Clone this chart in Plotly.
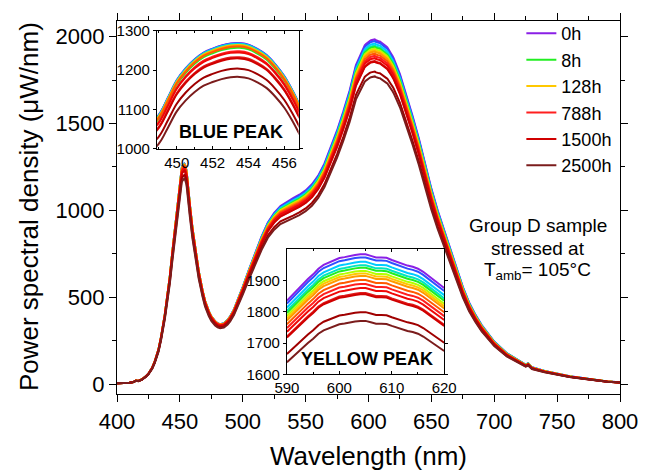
import plotly.graph_objects as go
import numpy as np

# ---------------- data ----------------
wavelength = [400, 405, 410, 413, 415, 417, 420, 423, 425, 428, 430, 433, 435, 438, 440,
              442, 444, 446, 448, 449, 449.5, 450, 450.5, 451, 451.5, 452, 452.5, 453,
              453.5, 454, 454.5, 455, 455.5, 456, 456.5, 457, 458, 460, 462, 465, 468,
              470, 473, 475, 478, 480, 482, 485, 488, 490, 493, 495, 498, 500, 505, 510,
              515, 520, 525, 530, 535, 540, 545, 550, 555, 560, 565, 570, 575, 580, 585,
              590, 591, 592, 593, 594, 595, 596, 597, 598, 599, 600, 601, 602, 603, 604,
              605, 606, 607, 608, 609, 610, 611, 612, 613, 614, 615, 616, 617, 618, 619,
              620, 625, 630, 635, 640, 645, 650, 655, 660, 665, 670, 675, 680, 685, 690,
              695, 700, 710, 720, 725, 727, 730, 740, 750, 760, 770, 780, 790, 800]

psd_0h = [5, 5, 8, 12, 20, 18, 28, 45, 60, 95, 130, 200, 270, 400, 500,
          620, 760, 900, 1040, 1087, 1130, 1175, 1205, 1228, 1245, 1255, 1263, 1268,
          1269, 1265, 1254, 1239, 1215, 1185, 1145, 1100, 1030, 900, 790, 650, 540,
          480, 420, 390, 362, 350, 345, 350, 370, 390, 430, 465, 520, 560, 660, 760,
          850, 930, 985, 1025, 1050, 1070, 1090, 1115, 1150, 1200, 1270, 1360, 1460, 1570, 1690,
          1836, 1853, 1870, 1890, 1905, 1920, 1938, 1950, 1957, 1965, 1972, 1975, 1979, 1982, 1984,
          1984, 1979, 1974, 1974, 1973, 1966, 1960, 1953, 1948, 1944, 1938, 1928, 1915, 1902, 1890,
          1876, 1785, 1670, 1545, 1415, 1270, 1125, 1000, 890, 776, 660, 560, 470, 400, 340,
          290, 245, 178, 132, 112, 120, 97, 76, 60, 45, 35, 25, 15, 10]

series_names = ["0h", "1h", "2h", "4h", "8h", "32h", "128h", "256h", "500h",
                "788h", "1000h", "1250h", "1500h", "2000h", "2500h"]
# value of each series at the blue peak (453.5 nm) and at the yellow peak (605 nm)
blue_peak = [1269, 1268, 1267, 1266, 1257, 1262, 1264, 1262, 1260,
             1248, 1245, 1233, 1230, 1204, 1183]
yellow_peak = [1984, 1974, 1960, 1949, 1941, 1931, 1923, 1915, 1902,
               1889, 1876, 1860, 1856, 1799, 1771]
legend_series = ["0h", "8h", "128h", "788h", "1500h", "2500h"]

blue_xticks = [450, 452, 454, 456]
blue_yticks = [1000, 1100, 1200, 1300]
yellow_xticks = [590, 600, 610, 620]
yellow_yticks = [1600, 1700, 1800, 1900]
main_xticks = [400, 450, 500, 550, 600, 650, 700, 750, 800]
main_yticks = [0, 500, 1000, 1500, 2000]

# ---------------- styles ----------------
colors = ["#8a1fe6", "#2f4fff", "#00ccff", "#00e6c0", "#22ee22", "#b4ff00", "#ffc800",
          "#ff9a00", "#ff5a00", "#ff1f1f", "#f00808", "#e01b1b", "#d00000", "#a00000", "#7b1c1c"]
FONT = "Liberation Sans, Arial, sans-serif"

W, H = 650, 470
PL, PR, PT, PB = 117, 632, 15, 394          # main plot area in pixels


def fx(px):
    return (px - PL) / (PR - PL)


def fy(py):
    return (PB - py) / (PB - PT)


lam = np.array(wavelength, dtype=float)
base = np.array(psd_0h, dtype=float)
# blend weight between blue-peak attenuation and yellow-peak attenuation
w = np.clip((lam - 480.0) / 60.0, 0, 1)

fig = go.Figure()
series_curves = []
for i, name in enumerate(series_names):
    b = blue_peak[i] / blue_peak[0]
    yv = yellow_peak[i] / yellow_peak[0]
    series_curves.append(base * (b + (yv - b) * w))

for i, name in enumerate(series_names):
    fig.add_trace(go.Scatter(x=lam, y=series_curves[i], mode="lines", name=name,
                             line=dict(color=colors[i], width=2),
                             showlegend=name in legend_series, xaxis="x", yaxis="y"))
for i, name in enumerate(series_names):
    m = (lam >= 448) & (lam <= 458)
    fig.add_trace(go.Scatter(x=lam[m], y=series_curves[i][m], mode="lines", name=name,
                             line=dict(color=colors[i], width=2, shape="spline"),
                             showlegend=False, xaxis="x2", yaxis="y2"))
for i, name in enumerate(series_names):
    m = (lam >= 589) & (lam <= 621)
    fig.add_trace(go.Scatter(x=lam[m], y=series_curves[i][m], mode="lines", name=name,
                             line=dict(color=colors[i], width=2),
                             showlegend=False, xaxis="x3", yaxis="y3"))

axis_common = dict(showline=True, linecolor="black", linewidth=1.2, mirror="ticks",
                   showgrid=False, zeroline=False, tickcolor="black")

fig.update_layout(
    width=W, height=H,
    margin=dict(l=PL, r=W - PR, t=PT, b=H - PB),
    paper_bgcolor="white", plot_bgcolor="white",
    font=dict(family=FONT, color="black"),
    xaxis=dict(**axis_common, range=[400, 800], tickvals=main_xticks, ticks="outside",
               ticklen=7, tickfont=dict(size=22),
               minor=dict(ticks="outside", ticklen=4, dtick=25, tickcolor="black")),
    yaxis=dict(**axis_common, range=[-57, 2090], tickvals=main_yticks, ticks="outside",
               ticklen=7, tickfont=dict(size=22),
               minor=dict(ticks="outside", ticklen=4, dtick=250, tickcolor="black")),
    xaxis2=dict(**axis_common, domain=[fx(158), fx(303)], anchor="y2", range=[448.9, 456.8],
                tickvals=blue_xticks, ticks="inside", ticklen=3, tickfont=dict(size=15),
                minor=dict(ticks="inside", ticklen=2, dtick=1, tickcolor="black")),
    yaxis2=dict(**axis_common, domain=[fy(145), fy(25)], anchor="x2", range=[1000, 1300],
                tickvals=blue_yticks, ticks="outside", ticklen=3, tickfont=dict(size=15)),
    xaxis3=dict(**axis_common, domain=[fx(291), fx(452)], anchor="y3", range=[590, 620],
                tickvals=yellow_xticks, ticks="inside", ticklen=3, tickfont=dict(size=15),
                minor=dict(ticks="inside", ticklen=2, dtick=5, tickcolor="black")),
    yaxis3=dict(**axis_common, domain=[fy(374), fy(247)], anchor="x3", range=[1600, 2000],
                tickvals=yellow_yticks, ticks="outside", ticklen=3, tickfont=dict(size=15)),
    legend=dict(x=fx(531), y=fy(9), xanchor="left", yanchor="top",
                font=dict(size=18), bgcolor="rgba(0,0,0,0)", tracegroupgap=0,
                itemwidth=30),
)

ann = [
    dict(text="Power spectral density (\u03bcW/nm)", x=fx(27), y=fy(204), textangle=-90,
         font=dict(size=26)),
    dict(text="Wavelength (nm)", x=fx(374), y=fy(457), font=dict(size=26)),
    dict(text="<b>BLUE PEAK</b>", x=fx(234), y=fy(128), font=dict(size=18)),
    dict(text="<b>YELLOW PEAK</b>", x=fx(373), y=fy(358), font=dict(size=18)),
    dict(text="Group D sample", x=fx(548), y=fy(223), font=dict(size=19)),
    dict(text="stressed at", x=fx(548), y=fy(246), font=dict(size=19)),
    dict(text="T<sub>amb</sub>= 105\u00b0C", x=fx(548), y=fy(269), font=dict(size=19)),
]
for a in ann:
    fig.add_annotation(xref="paper", yref="paper", showarrow=False,
                       xanchor="center", yanchor="middle", **a)

fig.write_html("out.html")
